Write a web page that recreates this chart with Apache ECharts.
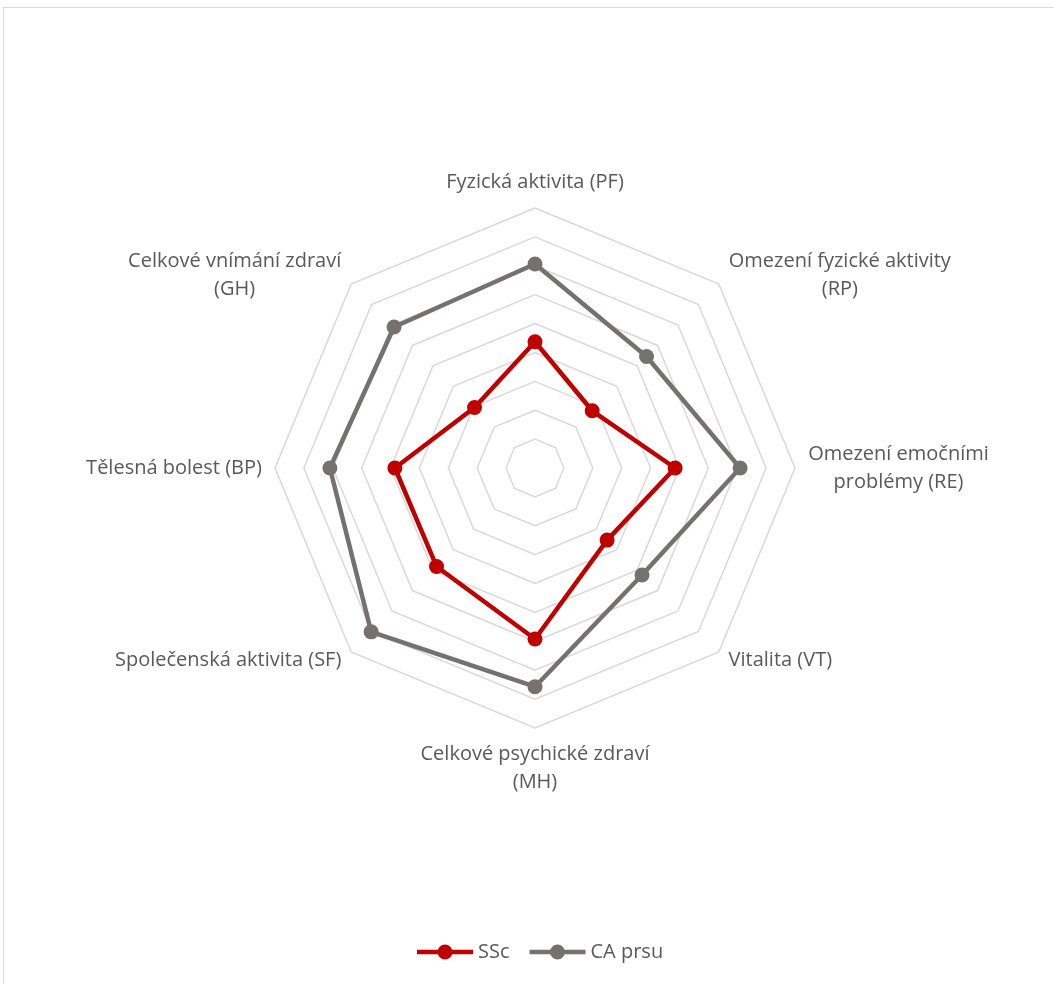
<!DOCTYPE html>
<html>
<head>
<meta charset="utf-8">
<script src="https://cdn.jsdelivr.net/npm/echarts@6/dist/echarts.min.js"></script>
<style>
    html, body { margin: 0; padding: 0; background: #fff; }
    #frame { position: absolute; left: 3px; top: 7px; width: 1100px; height: 1100px;
             border-left: 1px solid #d9d9d9; border-top: 1px solid #d9d9d9; }
    #chart { position: absolute; left: 0; top: 0; width: 1054px; height: 984px; }
</style>
</head>
<body>
<div id="frame"></div>
<div id="chart"></div>
<script>
// osy ve směru hodinových ručiček od vrcholu
var osy = ["Fyzická aktivita (PF)", "Omezení fyzické aktivity\n(RP)", "Omezení emočními\nproblémy (RE)",
           "Vitalita (VT)", "Celkové psychické zdraví\n(MH)", "Společenská aktivita (SF)",
           "Tělesná bolest (BP)", "Celkové vnímání zdraví\n(GH)"];
var ssc = [43.7, 28.0, 48.5, 35.3, 59.2, 48.2, 48.5, 29.6];
var caPrsu = [70.6, 54.6, 71.0, 52.4, 75.7, 80.2, 71.0, 69.0];
var osaMax = 90;

var pismo = 'Open Sans';
var velikost = 20;

// echarts kreslí radar proti směru hodinových ručiček -> otočit pořadí
function poradi(arr) {
    return [arr[0]].concat(arr.slice(1).reverse());
}

// šířka nejdelšího řádku popisku, aby šly řádky zarovnat na střed
var ctx = document.createElement('canvas').getContext('2d');
ctx.font = velikost + 'px "' + pismo + '"';
var rich = {};
var klice = {};
poradi(osy).forEach(function (n, i) {
    var w = 0;
    n.split('\n').forEach(function (r) { w = Math.max(w, ctx.measureText(r).width); });
    rich['r' + i] = { width: Math.ceil(w) + 2, align: 'center', color: '#595959', fontSize: velikost,
                      fontFamily: pismo, lineHeight: 28 };
    klice[n] = 'r' + i;
});

// čára se značkou uprostřed, jako v Excelu
var legendIkona = 'path://M0,4.75 L56,4.75 L56,9.25 L0,9.25 Z M35.5,7 A7.5,7.5 0 1 1 20.5,7 A7.5,7.5 0 1 1 35.5,7 Z';

var myChart = echarts.init(document.getElementById('chart'));
var option = {
    animation: false,
    color: ['#C00000', '#767171'],
    legend: {
        top: 937,
        left: 412,
        itemWidth: 56,
        itemHeight: 15,
        itemGap: 20,
        textStyle: { color: '#595959', fontSize: velikost, fontFamily: pismo },
        data: [{ name: 'SSc', icon: legendIkona }, { name: 'CA prsu', icon: legendIkona }]
    },
    radar: {
        center: [535, 468],
        radius: 260,
        startAngle: 90,
        shape: 'polygon',
        splitNumber: 9,
        indicator: poradi(osy).map(function (n) { return { name: n, min: 0, max: osaMax }; }),
        axisName: {
            formatter: function (v) {
                var k = klice[v];
                return '{' + k + '|' + v.split('\n').join('}\n{' + k + '|') + '}';
            },
            rich: rich
        },
        nameGap: 12,
        axisLine: { show: false },
        splitArea: { show: false },
        splitLine: { lineStyle: { color: '#d9d9d9', width: 1.5 } }
    },
    series: [{
        type: 'radar',
        symbol: 'circle',
        symbolSize: 15,
        data: [
            { name: 'SSc', value: poradi(ssc), lineStyle: { width: 4.5 } },
            { name: 'CA prsu', value: poradi(caPrsu), lineStyle: { width: 4.5 } }
        ]
    }]
};
myChart.setOption(option);
</script>
</body>
</html>
